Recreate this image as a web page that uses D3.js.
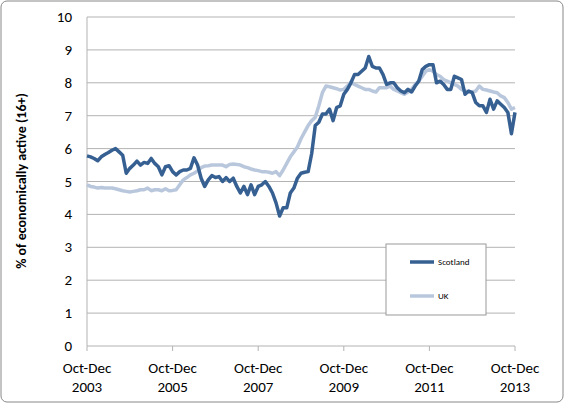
<!DOCTYPE html><html><head><meta charset="utf-8"><script src="https://cdn.jsdelivr.net/npm/d3@7"></script>
<style>body{margin:0;background:#fff}text{font-family:Calibri,Carlito,"Liberation Sans",Arial,sans-serif}</style></head><body><svg id="c" width="565" height="404"></svg>
<script>
const scotland=[5.78,5.75,5.7,5.63,5.75,5.82,5.88,5.95,6.0,5.9,5.8,5.25,5.4,5.5,5.62,5.5,5.58,5.55,5.7,5.55,5.45,5.2,5.45,5.48,5.3,5.2,5.3,5.35,5.35,5.4,5.72,5.5,5.1,4.85,5.05,5.18,5.12,5.15,5.0,5.12,5.0,5.1,4.85,4.65,4.85,4.6,4.9,4.6,4.85,4.9,5.0,4.85,4.65,4.35,3.95,4.2,4.2,4.65,4.8,5.1,5.25,5.28,5.3,5.85,6.7,6.8,7.05,7.05,7.2,6.85,7.25,7.3,7.65,7.8,8.0,8.25,8.25,8.35,8.45,8.8,8.5,8.45,8.45,8.25,7.95,8.0,8.0,7.85,7.75,7.7,7.8,7.72,7.9,8.05,8.4,8.5,8.55,8.55,8.0,8.05,7.95,7.8,7.8,8.2,8.15,8.1,7.65,7.75,7.7,7.4,7.3,7.3,7.1,7.5,7.2,7.45,7.35,7.25,7.1,6.45,7.1];
const uk=[4.9,4.85,4.83,4.8,4.82,4.8,4.8,4.8,4.78,4.75,4.72,4.7,4.68,4.7,4.72,4.75,4.75,4.8,4.72,4.75,4.75,4.72,4.78,4.72,4.73,4.75,4.9,5.05,5.12,5.2,5.25,5.32,5.42,5.47,5.48,5.5,5.5,5.5,5.5,5.45,5.52,5.53,5.52,5.5,5.45,5.42,5.38,5.35,5.33,5.3,5.3,5.28,5.25,5.3,5.18,5.35,5.55,5.75,5.9,6.05,6.3,6.5,6.7,6.85,6.95,7.3,7.7,7.9,7.88,7.85,7.82,7.78,7.8,7.9,8.02,7.95,7.9,7.85,7.8,7.8,7.75,7.72,7.85,7.85,7.85,7.9,7.8,7.75,7.7,7.65,7.72,7.8,7.95,8.05,8.2,8.35,8.4,8.35,8.25,8.2,8.1,8.05,8.0,7.95,7.9,7.8,7.75,7.72,7.72,7.75,7.9,7.8,7.78,7.75,7.72,7.7,7.6,7.55,7.4,7.2,7.25];
const xTickYears=["2003","2005","2007","2009","2011","2013"];
const yTicks=[0,1,2,3,4,5,6,7,8,9,10];
const svg=d3.select("#c");
svg.append("rect").attr("x",1).attr("y",1).attr("width",562).attr("height",401).attr("rx",6).attr("fill","#fff").attr("stroke","#888");
const x=d3.scaleLinear().domain([0,120]).range([87,515]);
const y=d3.scaleLinear().domain([0,10]).range([346,17]);
svg.append("g").selectAll("line").data(yTicks).join("line").attr("x1",x(0)).attr("x2",x(120)).attr("y1",d=>y(d)).attr("y2",d=>y(d)).attr("stroke","#b3b3b3").attr("stroke-width",1);
svg.append("line").attr("x1",x(0)).attr("x2",x(0)).attr("y1",y(0)).attr("y2",y(10)).attr("stroke","#b3b3b3");
svg.append("g").selectAll("line").data(xTickYears).join("line").attr("x1",(d,i)=>x(i*24)).attr("x2",(d,i)=>x(i*24)).attr("y1",y(0)).attr("y2",y(0)+5).attr("stroke","#b3b3b3");
svg.append("g").selectAll("text").data(yTicks).join("text").attr("x",72).attr("y",d=>y(d)+5).attr("text-anchor","end").attr("font-size",15).attr("fill","#000").text(d=>d);
const xl=svg.append("g").selectAll("text").data(xTickYears).join("text").attr("text-anchor","middle").attr("font-size",15).attr("fill","#000");
xl.append("tspan").attr("x",(d,i)=>x(i*24)).attr("y",373).text("Oct-Dec");
xl.append("tspan").attr("x",(d,i)=>x(i*24)).attr("y",392).text(d=>d);
svg.append("text").attr("transform","translate(26,181) rotate(-90)").attr("text-anchor","middle").attr("font-size",14).attr("font-weight","bold").text("% of economically active (16+)");
const line=d3.line().x((d,i)=>x(i)).y(d=>y(d));
svg.append("path").datum(uk).attr("d",line).attr("fill","none").attr("stroke","#b9c7dd").attr("stroke-width",3.5).attr("stroke-linejoin","round");
svg.append("path").datum(scotland).attr("d",line).attr("fill","none").attr("stroke","#366092").attr("stroke-width",3.5).attr("stroke-linejoin","round");
svg.append("rect").attr("x",386).attr("y",244).attr("width",100).attr("height",71).attr("fill","#fff").attr("stroke","#999");
const leg=[["Scotland","#366092",262],["UK","#b9c7dd",296]];
leg.forEach(([n,c,yy])=>{svg.append("line").attr("x1",410).attr("x2",434).attr("y1",yy).attr("y2",yy).attr("stroke",c).attr("stroke-width",3.5);
svg.append("text").attr("x",438).attr("y",yy+3).attr("font-size",9).text(n);});
</script></body></html>
